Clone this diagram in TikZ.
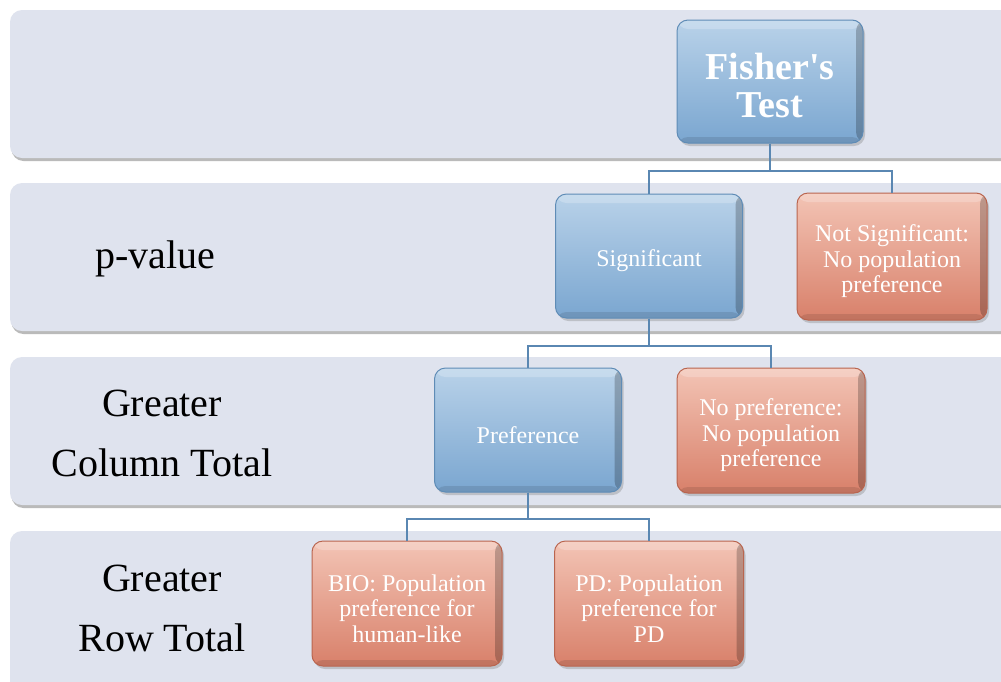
\documentclass[tikz,border=0pt]{standalone}
\usepackage{fontspec}
\setmainfont{Liberation Serif}[Ligatures=TeXOff]
\usetikzlibrary{shadows}
\definecolor{bandfill}{HTML}{DFE3EE}
\definecolor{blueTop}{HTML}{B9D2E9}
\definecolor{blueBot}{HTML}{7AA6D0}
\definecolor{blueBorder}{HTML}{5F8CB6}
\definecolor{salTop}{HTML}{F3C4B5}
\definecolor{salBot}{HTML}{D8806A}
\definecolor{salBorder}{HTML}{B9654F}
\definecolor{connc}{HTML}{5A87B2}
\newcommand\firststrut{\rule{0pt}{27pt}}
\newcommand\bigstrut{\rule{0pt}{35pt}}
\begin{document}
\begin{tikzpicture}[x=1pt,y=-1pt,
  band/.style={fill=bandfill, rounded corners=12pt,
    drop shadow={shadow xshift=1.5pt, shadow yshift=-3pt, opacity=0.45, fill=black!60}},
  boxbase/.style={rectangle, rounded corners=11pt, line width=1pt, text=white,
    align=center, inner sep=4pt,
    font=\fontsize{24}{25.5}\selectfont,
    drop shadow={shadow xshift=2pt, shadow yshift=-3pt, opacity=0.35},
    path picture={
      \fill[white, opacity=0.22] (path picture bounding box.north west) rectangle ([yshift=-9pt]path picture bounding box.north east);
      \fill[black, opacity=0.22] ([xshift=-7pt]path picture bounding box.north east) rectangle (path picture bounding box.south east);
      \fill[black, opacity=0.10] (path picture bounding box.south west) rectangle ([yshift=6pt]path picture bounding box.south east);
    }},
  bluebox/.style={boxbase, top color=blueTop, bottom color=blueBot, draw=blueBorder},
  salbox/.style={boxbase, top color=salTop, bottom color=salBot, draw=salBorder},
  conn/.style={draw=connc, line width=2pt},
  rowlabel/.style={align=center, text=black, font=\fontsize{40}{60}\selectfont}
]
\useasboundingbox (0,0) rectangle (1001,681);
\clip (0,0) rectangle (1001,681);
\fill[white] (0,0) rectangle (1001,681);

% bands
\path[band] (10,10) rectangle (1030,158);
\path[band] (10,183) rectangle (1030,331);
\path[band] (10,357) rectangle (1030,505);
\path[band] (10,531) rectangle (1030,700);

% row labels
\node[rowlabel] (lp) at (155,259) {p-value};
\node[rowlabel] (lc) at (162,433) {Greater\\Column Total};
\node[rowlabel] (lr) at (162,608) {Greater\\Row Total};

% boxes
\node[bluebox, minimum width=186pt, minimum height=123pt, font=\bfseries\fontsize{38}{38}\selectfont] (fisher) at (770,81.5) {\bigstrut Fisher's\\Test};
\node[bluebox, minimum width=187pt, minimum height=124pt] (sig) at (649,256) {\firststrut Significant};
\node[salbox, minimum width=190pt, minimum height=127pt] (notsig) at (892,256.5) {\firststrut Not Significant:\\No population\\preference};
\node[bluebox, minimum width=187pt, minimum height=124pt] (pref) at (528,430) {\firststrut Preference};
\node[salbox, minimum width=188pt, minimum height=125pt] (nopref) at (771,430.5) {\firststrut No preference:\\No population\\preference};
\node[salbox, minimum width=190pt, minimum height=125pt] (bio) at (407,603.5) {\firststrut BIO: Population\\preference for\\human-like};
\node[salbox, minimum width=189pt, minimum height=125pt] (pd) at (649,603.5) {\firststrut PD: Population\\preference for\\PD};

% connectors
\draw[conn] (fisher.south) -- ++(0,27) -| (sig.north);
\draw[conn] (fisher.south) -- ++(0,27) -| (notsig.north);
\draw[conn] (sig.south) -- ++(0,27) -| (pref.north);
\draw[conn] (sig.south) -- ++(0,27) -| (nopref.north);
\draw[conn] (pref.south) -- ++(0,26) -| (bio.north);
\draw[conn] (pref.south) -- ++(0,26) -| (pd.north);
\end{tikzpicture}
\end{document}
